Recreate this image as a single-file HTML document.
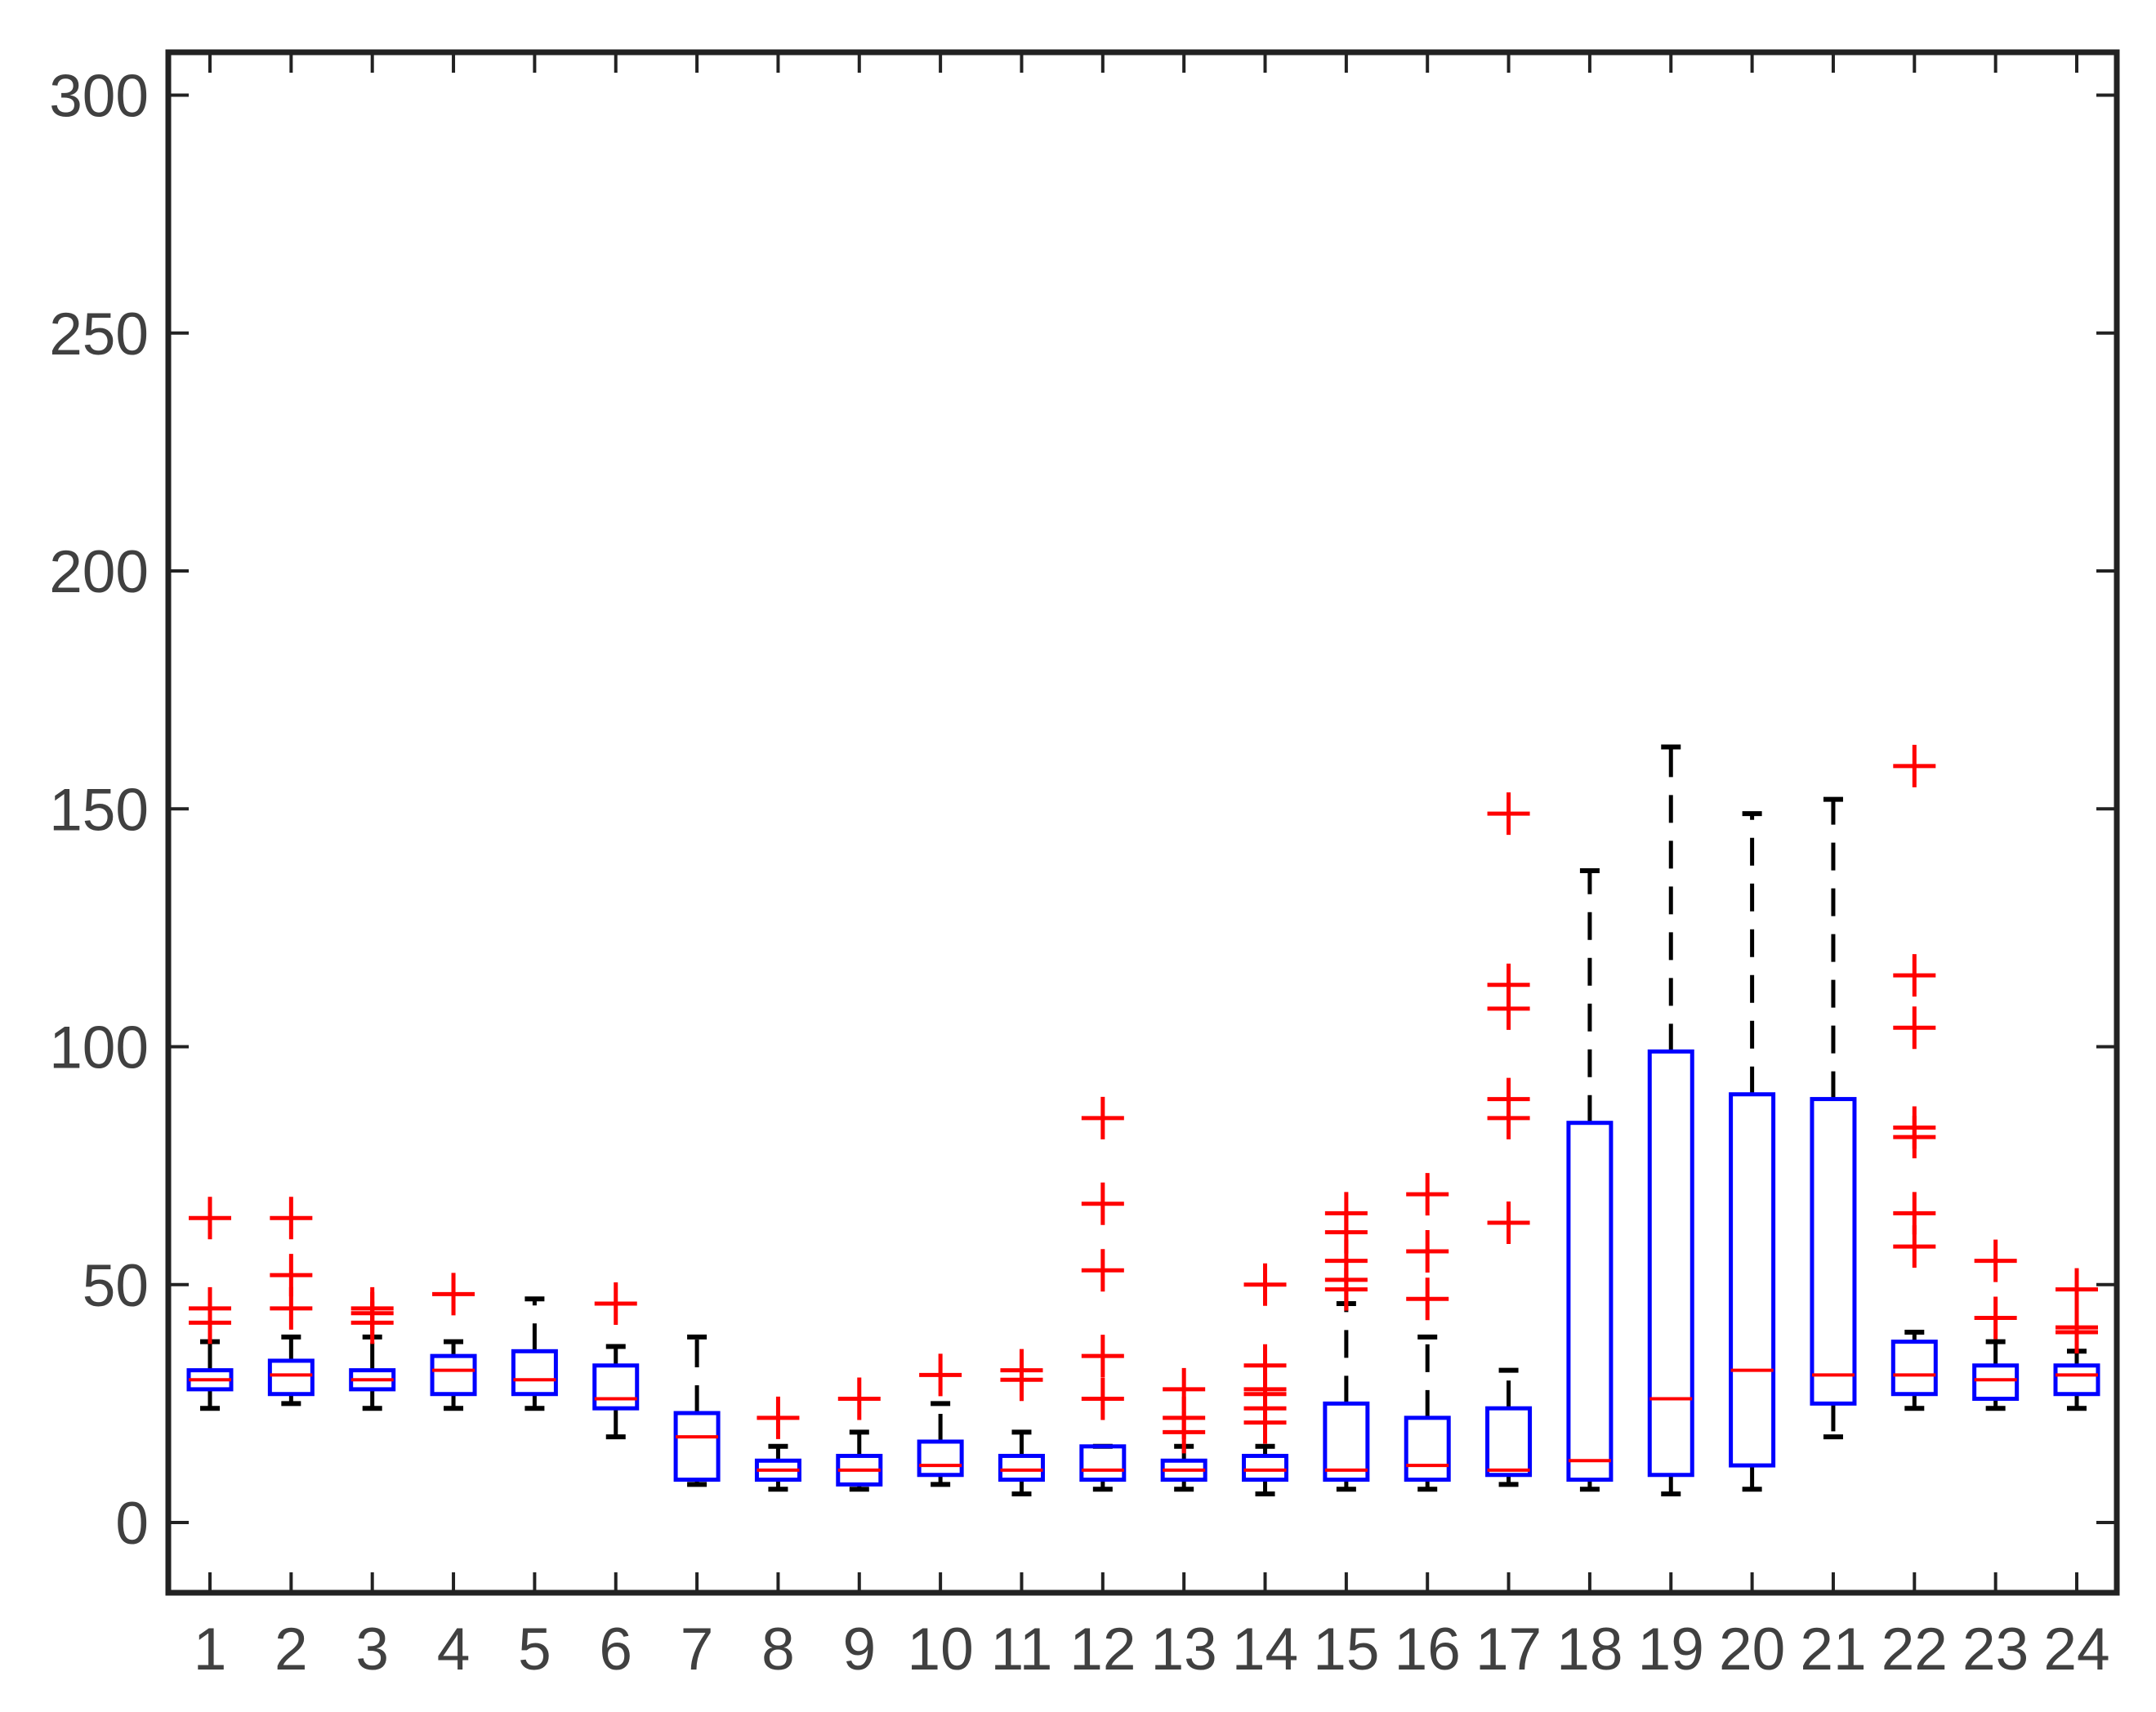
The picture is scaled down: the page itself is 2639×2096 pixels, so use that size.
<!DOCTYPE html>
<html><head><meta charset="utf-8"><style>
html,body{margin:0;padding:0;background:#fff;}
svg{display:block;}
text{font-family:"Liberation Sans",sans-serif;fill:#404040;}
</style></head><body>
<svg id="chart" width="2639" height="2096" viewBox="0 0 2639 2096" xmlns="http://www.w3.org/2000/svg">
<rect width="2639" height="2096" fill="#fff"/>
<g id="marks"></g>
<g id="axes"></g>
</svg>
<script>
const categories = ["1","2","3","4","5","6","7","8","9","10","11","12","13","14","15","16","17","18","19","20","21","22","23","24"];
const lowWhisker = [24,25,24,24,24,18,8,7,7,8,6,7,7,6,7,7,8,7,6,7,18,24,24,24];
const q1 = [28,27,28,27,27,24,9,9,8,10,9,9,9,9,9,9,10,9,10,12,25,27,26,27];
const median = [30,31,30,32,30,26,18,11,11,12,11,11,11,11,11,12,11,13,26,32,31,31,30,31];
const q3 = [32,34,32,35,36,33,23,13,14,17,14,16,13,14,25,22,24,84,99,90,89,38,33,33];
const highWhisker = [38,39,39,38,47,37,39,16,19,25,19,16,16,16,46,39,32,137,163,149,152,40,38,36];
const outliers = [[42,45,64],[45,52,64],[42,44,45],[48],[],[46],[],[22],[26],[31],[30,32],[26,35,53,67,85],[19,22,28],[21,24,27,28,33,50],[49,51,55,61,65],[47,57,69],[63,85,89,108,113,149],[],[],[],[],[58,65,81,83,104,115,159],[43,55],[40,41,49]];
const yTicks = [0,50,100,150,200,250,300];

const L=206,R=2591,T=64,B=1950;
const y = v => 1864 - v*(1864-116.5)/300;
const x = i => 257 + i*(2542-257)/23;
const NS="http://www.w3.org/2000/svg";
function mk(tag, attrs, parent){const e=document.createElementNS(NS,tag);for(const k in attrs)e.setAttribute(k,attrs[k]);parent.appendChild(e);return e;}
const marks=document.getElementById('marks');
const axes=document.getElementById('axes');
const bw=52, cw=24, ps=26;
categories.forEach((c,i)=>{
  const g=mk('g',{},marks);
  
  
  const cx=x(i);
  const dash={stroke:'#000','stroke-width':5,'stroke-dasharray':'34 22'};
  const w1=mk('line',Object.assign({x1:cx,x2:cx,y1:y(q3[i]),y2:y(highWhisker[i])},dash),g);
  
  
  const w2=mk('line',Object.assign({x1:cx,x2:cx,y1:y(q1[i]),y2:y(lowWhisker[i])},dash),g);
  
  
  [highWhisker[i],lowWhisker[i]].forEach(v=>{
    const cap=mk('line',{x1:cx-cw/2,x2:cx+cw/2,y1:y(v),y2:y(v),stroke:'#000','stroke-width':6},g);
    
    
  });
  const r=mk('rect',{x:cx-bw/2,y:y(q3[i]),width:bw,height:y(q1[i])-y(q3[i]),fill:'none',stroke:'#0000ff','stroke-width':5},g);
  
  
  const m=mk('line',{x1:cx-bw/2,x2:cx+bw/2,y1:y(median[i]),y2:y(median[i]),stroke:'#ff0000','stroke-width':4},g);
  
  
  outliers[i].forEach(v=>{
    const p=mk('path',{d:`M${cx-ps} ${y(v)}H${cx+ps}M${cx} ${y(v)-ps}V${y(v)+ps}`,stroke:'#ff0000','stroke-width':5,fill:'none'},g);
    
    
  });
  const t1=mk('line',{x1:cx,x2:cx,y1:B,y2:B-25,stroke:'#222','stroke-width':4},axes);
  
  
  const t2=mk('line',{x1:cx,x2:cx,y1:T,y2:T+25,stroke:'#222','stroke-width':4},axes);
  
  
  const lb=mk('text',{x:cx,y:2044,'text-anchor':'middle','font-size':73},axes);
  lb.textContent=c;
  
  
});
yTicks.forEach(v=>{
  const a=mk('line',{x1:L,x2:L+25,y1:y(v),y2:y(v),stroke:'#222','stroke-width':4},axes);
  
  
  const b=mk('line',{x1:R,x2:R-25,y1:y(v),y2:y(v),stroke:'#222','stroke-width':4},axes);
  
  
  const t=mk('text',{x:182,y:y(v)+26,'text-anchor':'end','font-size':73},axes);
  t.textContent=v;
  
  
});
const frame=mk('rect',{x:L,y:T,width:R-L,height:B-T,fill:'none',stroke:'#222','stroke-width':7},axes);


</script>
</body></html>
